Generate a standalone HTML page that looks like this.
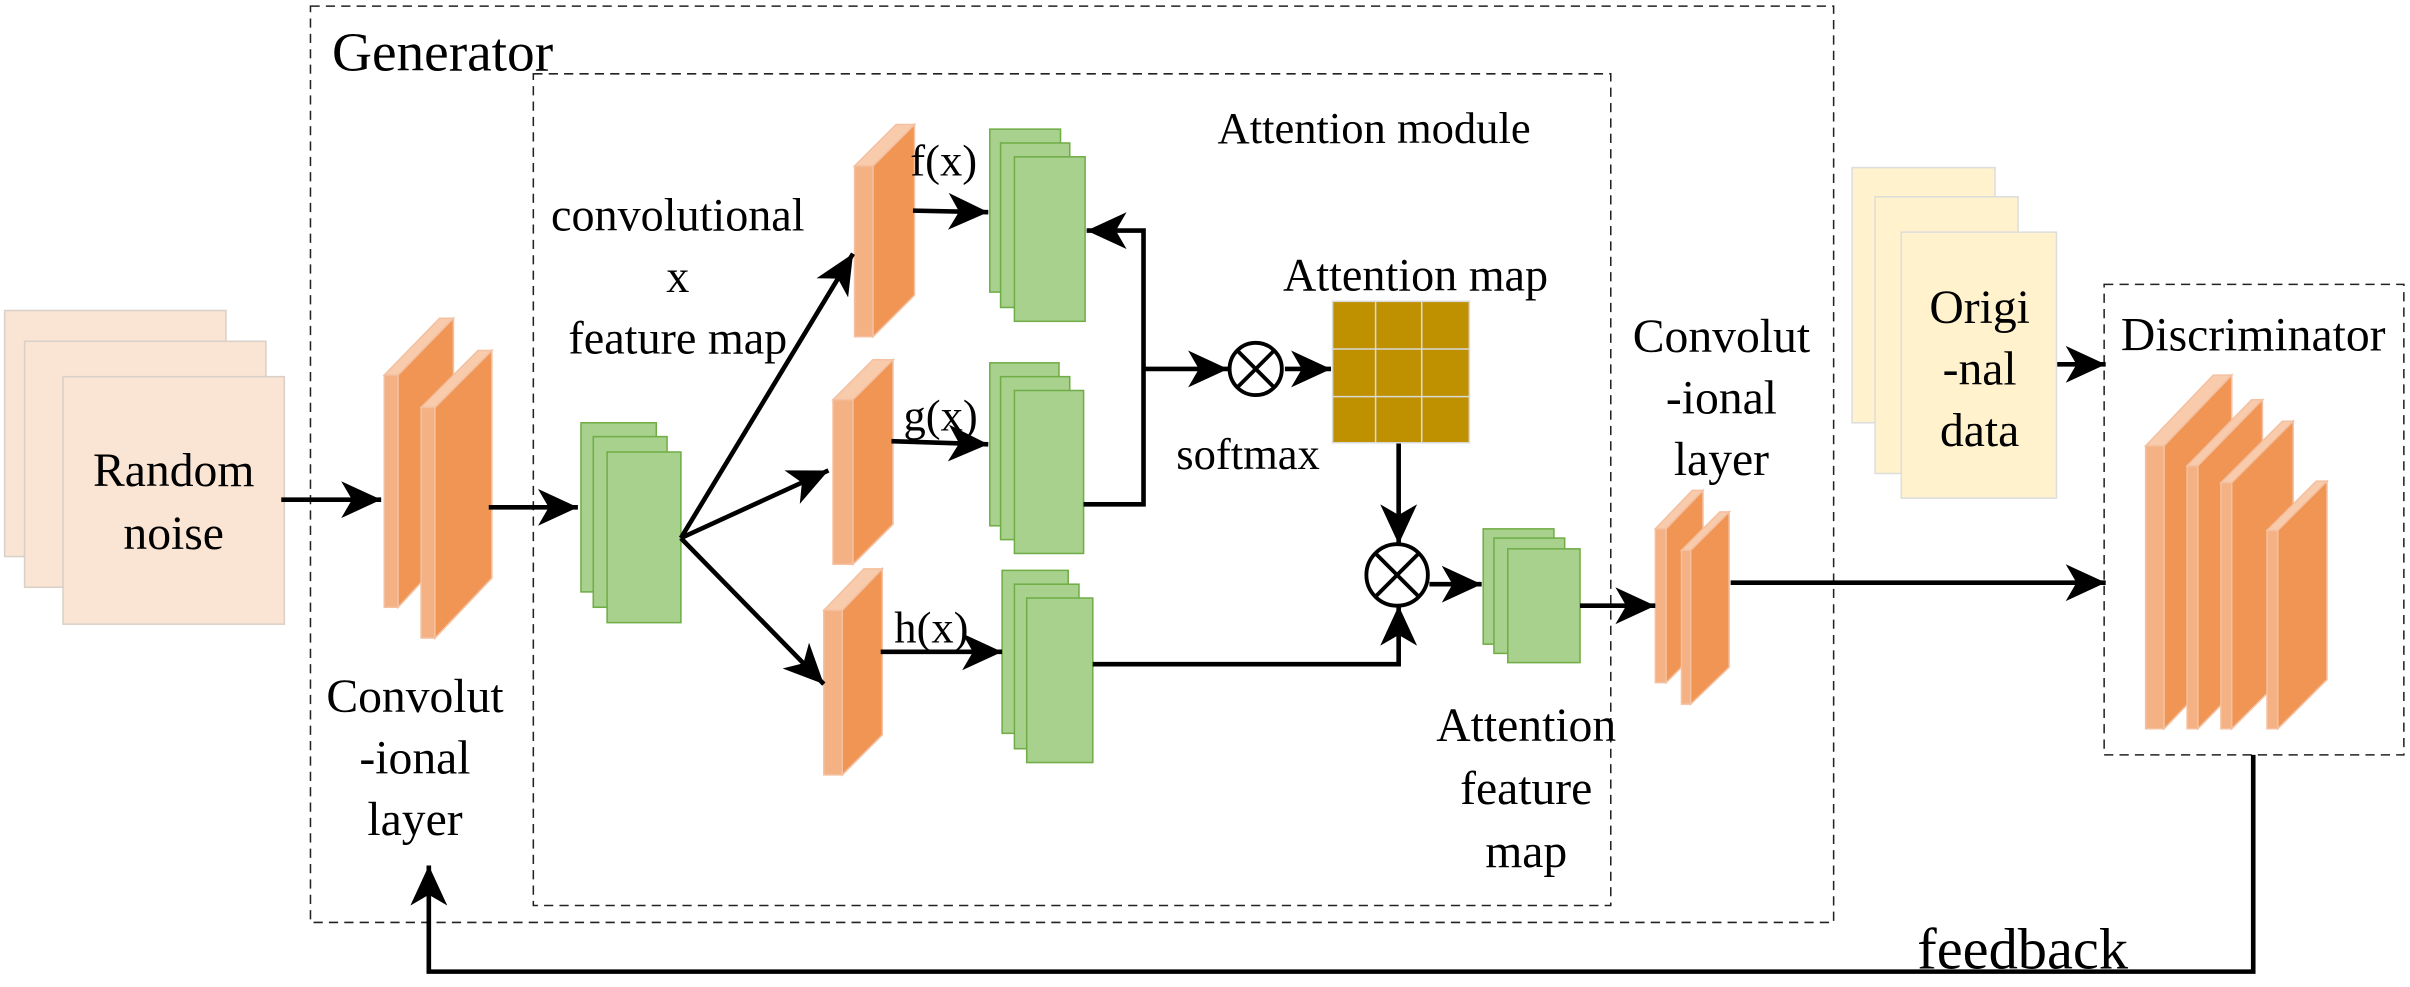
<!DOCTYPE html>
<html><head><meta charset="utf-8"><style>
html,body{margin:0;padding:0;background:#fff;}
svg{display:block;}
svg text{font-family:"Liberation Serif","Times New Roman",serif !important;fill:#000;}
</style></head><body>
<svg width="2410" height="987" viewBox="0 0 1568 642" preserveAspectRatio="none" xmlns="http://www.w3.org/2000/svg" font-family="Liberation Serif, serif">
<defs>
<marker id="a" markerUnits="userSpaceOnUse" markerWidth="28" markerHeight="24" refX="26" refY="12" orient="auto">
<path d="M0,0 L26,12 L0,24 L7,12 Z" fill="#000"/>
</marker>
</defs>
<rect x="202" y="4" width="991" height="596" fill="none" stroke="#222" stroke-width="1" stroke-dasharray="6,4"/>
<rect x="347" y="48" width="701" height="541" fill="none" stroke="#222" stroke-width="1" stroke-dasharray="6,4"/>
<rect x="1369" y="185" width="195" height="306" fill="none" stroke="#222" stroke-width="1" stroke-dasharray="6,4"/>
<text x="216" y="46" font-size="36" font-family="Liberation Serif, serif">Generator</text>
<text x="894" y="93" font-size="29" text-anchor="middle" font-family="Liberation Serif, serif">Attention module</text>

<g fill="#fae5d4" stroke="#d9d0c8" stroke-width="1">
<rect x="3" y="202" width="144" height="160"/>
<rect x="16" y="222" width="157" height="160"/>
<rect x="41" y="245" width="144" height="161"/>
</g>
<text x="113" y="316" font-size="31" text-anchor="middle" font-family="Liberation Serif, serif">Random</text>
<text x="113" y="357" font-size="31" text-anchor="middle" font-family="Liberation Serif, serif">noise</text>
<line x1="183" y1="325" x2="248" y2="325" stroke="#000" stroke-width="3" marker-end="url(#a)"/>

<g stroke="#f4c0a0" stroke-width="1">
<polygon points="250,244 259,244 295,207 286,207" fill="#f8cbad"/>
<rect x="250" y="244" width="9" height="151" fill="#f4b183"/>
<polygon points="259,244 295,207 295,356 259,395" fill="#f09554"/>
<polygon points="274,265 283,265 320,228 311,228" fill="#f8cbad"/>
<rect x="274" y="265" width="9" height="150" fill="#f4b183"/>
<polygon points="283,265 320,228 320,376 283,415" fill="#f09554"/>
<polygon points="556,108 568,108 595,81 583,81" fill="#f8cbad"/>
<rect x="556" y="108" width="12" height="111" fill="#f4b183"/>
<polygon points="568,108 595,81 595,192 568,219" fill="#f09554"/>
<polygon points="542,260 555,260 581,234 568,234" fill="#f8cbad"/>
<rect x="542" y="260" width="13" height="107" fill="#f4b183"/>
<polygon points="555,260 581,234 581,341 555,367" fill="#f09554"/>
<polygon points="536,397 548,397 574,370 562,370" fill="#f8cbad"/>
<rect x="536" y="397" width="12" height="107" fill="#f4b183"/>
<polygon points="548,397 574,370 574,478 548,504" fill="#f09554"/>
<polygon points="1077,344 1084,344 1108,319 1101,319" fill="#f8cbad"/>
<rect x="1077" y="344" width="7" height="100" fill="#f4b183"/>
<polygon points="1084,344 1108,319 1108,420 1084,444" fill="#f09554"/>
<polygon points="1094,358 1100,358 1125,333 1119,333" fill="#f8cbad"/>
<rect x="1094" y="358" width="6" height="100" fill="#f4b183"/>
<polygon points="1100,358 1125,333 1125,434 1100,458" fill="#f09554"/>
<polygon points="1396,290 1408,290 1452,244 1440,244" fill="#f8cbad"/>
<rect x="1396" y="290" width="12" height="184" fill="#f4b183"/>
<polygon points="1408,290 1452,244 1452,428 1408,474" fill="#f09554"/>
<polygon points="1423,303 1430,303 1472,260 1465,260" fill="#f8cbad"/>
<rect x="1423" y="303" width="7" height="171" fill="#f4b183"/>
<polygon points="1430,303 1472,260 1472,431 1430,474" fill="#f09554"/>
<polygon points="1445,314 1452,314 1492,274 1485,274" fill="#f8cbad"/>
<rect x="1445" y="314" width="7" height="160" fill="#f4b183"/>
<polygon points="1452,314 1492,274 1492,434 1452,474" fill="#f09554"/>
<polygon points="1475,345 1482,345 1514,313 1507,313" fill="#f8cbad"/>
<rect x="1475" y="345" width="7" height="129" fill="#f4b183"/>
<polygon points="1482,345 1514,313 1514,442 1482,474" fill="#f09554"/>
</g>

<text x="270" y="463" font-size="31" text-anchor="middle" font-family="Liberation Serif, serif">Convolut</text>
<text x="270" y="503" font-size="31" text-anchor="middle" font-family="Liberation Serif, serif">-ional</text>
<text x="270" y="543" font-size="31" text-anchor="middle" font-family="Liberation Serif, serif">layer</text>
<line x1="318" y1="330" x2="376" y2="330" stroke="#000" stroke-width="3" marker-end="url(#a)"/>

<g fill="#a9d18e" stroke="#70ad47" stroke-width="1">
<rect x="378" y="275" width="49" height="110"/>
<rect x="386" y="284" width="48" height="111"/>
<rect x="395" y="294" width="48" height="111"/>
<rect x="644" y="84" width="46" height="106"/>
<rect x="651" y="93" width="45" height="107"/>
<rect x="660" y="102" width="46" height="107"/>
<rect x="644" y="236" width="45" height="106"/>
<rect x="651" y="245" width="45" height="106"/>
<rect x="660" y="254" width="45" height="106"/>
<rect x="652" y="371" width="43" height="106"/>
<rect x="660" y="380" width="42" height="107"/>
<rect x="668" y="389" width="43" height="107"/>
<rect x="965" y="344" width="46" height="75"/>
<rect x="972" y="350" width="46" height="75"/>
<rect x="981" y="357" width="47" height="74"/>
</g>

<text x="441" y="150" font-size="30" text-anchor="middle" font-family="Liberation Serif, serif">convolutional</text>
<text x="441" y="190" font-size="30" text-anchor="middle" font-family="Liberation Serif, serif">x</text>
<text x="441" y="230" font-size="30" text-anchor="middle" font-family="Liberation Serif, serif">feature map</text>

<g stroke="#000" stroke-width="3" fill="none">
<line x1="443" y1="350" x2="555" y2="165" marker-end="url(#a)"/>
<line x1="443" y1="350" x2="539" y2="306" marker-end="url(#a)"/>
<line x1="443" y1="350" x2="536" y2="445" marker-end="url(#a)"/>
<line x1="594" y1="137" x2="643" y2="138" marker-end="url(#a)"/>
<line x1="580" y1="287" x2="643" y2="289" marker-end="url(#a)"/>
<line x1="573" y1="424" x2="652" y2="424" marker-end="url(#a)"/>
<polyline points="705,328 744,328 744,150 707,150" marker-end="url(#a)"/>
<line x1="744" y1="240" x2="799" y2="240" marker-end="url(#a)"/>
<line x1="836" y1="240" x2="866" y2="240" marker-end="url(#a)"/>
<line x1="910" y1="288" x2="910" y2="354" marker-end="url(#a)"/>
<polyline points="711,432 910,432 910,394" marker-end="url(#a)"/>
<line x1="930" y1="380" x2="964" y2="380" marker-end="url(#a)"/>
<line x1="1028" y1="394" x2="1077" y2="394" marker-end="url(#a)"/>
<line x1="1126" y1="379" x2="1370" y2="379" marker-end="url(#a)"/>
<line x1="1338" y1="237" x2="1370" y2="237" marker-end="url(#a)"/>
<polyline points="1466,491 1466,632 279,632 279,563" marker-end="url(#a)"/>
</g>

<text x="614" y="114" font-size="29" text-anchor="middle" font-family="Liberation Serif, serif">f(x)</text>
<text x="612" y="280" font-size="29" text-anchor="middle" font-family="Liberation Serif, serif">g(x)</text>
<text x="606" y="418" font-size="29" text-anchor="middle" font-family="Liberation Serif, serif">h(x)</text>

<g stroke="#000" stroke-width="2.5" fill="#fff">
<circle cx="817" cy="240" r="17"/>
<line x1="805" y1="228" x2="829" y2="252"/>
<line x1="829" y1="228" x2="805" y2="252"/>
<circle cx="909" cy="374" r="20"/>
<line x1="895" y1="360" x2="923" y2="388"/>
<line x1="923" y1="360" x2="895" y2="388"/>
</g>
<text x="812" y="305" font-size="29" text-anchor="middle" font-family="Liberation Serif, serif">softmax</text>

<rect x="867" y="196" width="89" height="92" fill="#bf9000"/>
<g stroke="#d9d9d9" stroke-width="1" fill="none">
<rect x="867" y="196" width="89" height="92"/>
<line x1="895" y1="196" x2="895" y2="288"/>
<line x1="925" y1="196" x2="925" y2="288"/>
<line x1="867" y1="227" x2="956" y2="227"/>
<line x1="867" y1="258" x2="956" y2="258"/>
</g>
<text x="921" y="189" font-size="30" text-anchor="middle" font-family="Liberation Serif, serif">Attention map</text>

<text x="993" y="482" font-size="31" text-anchor="middle" font-family="Liberation Serif, serif">Attention</text>
<text x="993" y="523" font-size="31" text-anchor="middle" font-family="Liberation Serif, serif">feature</text>
<text x="993" y="564" font-size="31" text-anchor="middle" font-family="Liberation Serif, serif">map</text>

<text x="1120" y="229" font-size="31" text-anchor="middle" font-family="Liberation Serif, serif">Convolut</text>
<text x="1120" y="269" font-size="31" text-anchor="middle" font-family="Liberation Serif, serif">-ional</text>
<text x="1120" y="309" font-size="31" text-anchor="middle" font-family="Liberation Serif, serif">layer</text>

<g fill="#fff2cc" stroke="#ddd" stroke-width="1">
<rect x="1205" y="109" width="93" height="166"/>
<rect x="1220" y="128" width="93" height="180"/>
<rect x="1237" y="151" width="101" height="173"/>
</g>
<text x="1288" y="210" font-size="31" text-anchor="middle" font-family="Liberation Serif, serif">Origi</text>
<text x="1288" y="250" font-size="31" text-anchor="middle" font-family="Liberation Serif, serif">-nal</text>
<text x="1288" y="290" font-size="31" text-anchor="middle" font-family="Liberation Serif, serif">data</text>

<text x="1466" y="228" font-size="31" text-anchor="middle" font-family="Liberation Serif, serif">Discriminator</text>
<text x="1316" y="630" font-size="38" text-anchor="middle" font-family="Liberation Serif, serif">feedback</text>
</svg>
</body></html>
